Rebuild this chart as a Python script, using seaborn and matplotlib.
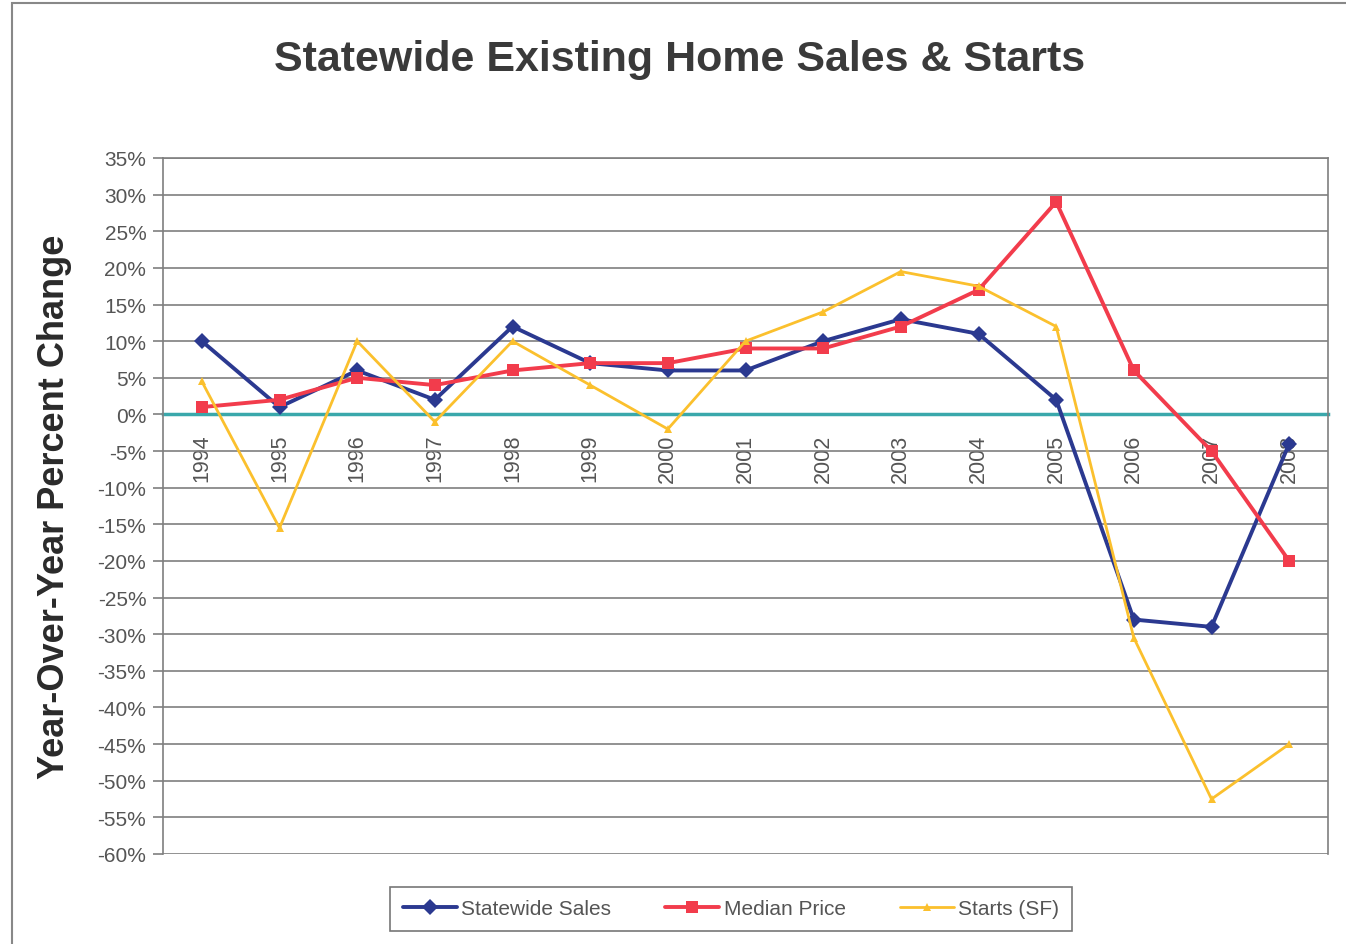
import matplotlib
matplotlib.use("Agg")
import matplotlib.pyplot as plt
import matplotlib.patches as mpatches
from matplotlib.ticker import FuncFormatter, MultipleLocator
import seaborn as sns
import pandas as pd
import numpy as np

years = [1994, 1995, 1996, 1997, 1998, 1999, 2000, 2001, 2002, 2003, 2004, 2005, 2006, 2007, 2008]
statewide_sales = [10, 1, 6, 2, 12, 7, 6, 6, 10, 13, 11, 2, -28, -29, -4]
median_price = [1, 2, 5, 4, 6, 7, 7, 9, 9, 12, 17, 29, 6, -5, -20]
starts_sf = [4.5, -15.5, 10, -1, 10, 4, -2, 10, 14, 19.5, 17.5, 12, -30.5, -52.5, -45]
series_names = ["Statewide Sales", "Median Price", "Starts (SF)"]
title_text = "Statewide Existing Home Sales & Starts"
ylabel_text = "Year-Over-Year Percent Change"

df = pd.DataFrame({
    "year": years * 3,
    "value": statewide_sales + median_price + starts_sf,
    "series": [series_names[0]] * len(years) + [series_names[1]] * len(years) + [series_names[2]] * len(years),
})

sns.set_style("white")
plt.rcParams["font.family"] = ["Liberation Sans", "DejaVu Sans"]

fig = plt.figure(figsize=(13.46, 9.45), dpi=100)
ax = fig.add_axes([163 / 1346, 1 - 855 / 945, (1328 - 163) / 1346, (855 - 159) / 945])

palette = {series_names[0]: "#2b3990", series_names[1]: "#f23c4c", series_names[2]: "#fbc02d"}
markers = {series_names[0]: "D", series_names[1]: "s", series_names[2]: "^"}
sizes_m = {series_names[0]: 8.5, series_names[1]: 9, series_names[2]: 6}
lws = {series_names[0]: 2.8, series_names[1]: 2.8, series_names[2]: 2.0}

for name in series_names:
    sub = df[df["series"] == name]
    sns.lineplot(data=sub, x="year", y="value", color=palette[name], marker=markers[name],
                 markersize=sizes_m[name], markeredgewidth=0, linewidth=lws[name], ax=ax,
                 label=name, zorder=3)

ax.set_xlim(years[0] - 0.5, years[-1] + 0.5)
ax.set_ylim(-60, 35)
ax.yaxis.set_major_locator(MultipleLocator(5))
ax.yaxis.set_major_formatter(FuncFormatter(lambda v, p: f"{int(round(v))}%"))
ax.grid(axis="y", color="#7f7f7f", linewidth=1.2, zorder=0)
ax.grid(axis="x", visible=False)

for s in ["left", "right", "top"]:
    ax.spines[s].set_color("#7f7f7f")
    ax.spines[s].set_linewidth(1.2)
ax.spines["bottom"].set_position(("data", 0))
ax.spines["bottom"].set_color("#3aa8ab")
ax.spines["bottom"].set_linewidth(2.5)
ax.spines["bottom"].set_zorder(2)

ax.set_xticks(years)
ax.set_xticklabels([str(y) for y in years], rotation=90, va="top", ha="center")
ax.set_xticks([y + 0.5 for y in years[:-1]], minor=True)
ax.tick_params(axis="x", which="major", length=0, pad=14, labelsize=15.5, labelcolor="#555555")
ax.tick_params(axis="x", which="minor", length=5, width=2, color="#3aa8ab", direction="out")
ax.tick_params(axis="y", which="major", length=7, width=1.2, color="#7f7f7f", direction="out",
               left=True, labelsize=15, labelcolor="#555555", pad=5)
ax.set_xlabel("")
ax.set_ylabel("")

fig.text(0.505, 1 - 60 / 945, title_text, ha="center", va="center", fontsize=31,
         fontweight="bold", color="#3a3a3a")
fig.text(55 / 1346, 1 - 507 / 945, ylabel_text, ha="center", va="center", rotation=90,
         fontsize=26, fontweight="bold", color="#2a2a2a")

handles, labels = ax.get_legend_handles_labels()
if ax.legend_:
    ax.legend_.remove()
leg = fig.legend(handles, labels, loc="center", bbox_to_anchor=(731 / 1346, 1 - 910 / 945), ncol=3,
                 frameon=True, fancybox=False, edgecolor="#555555", fontsize=15,
                 handlelength=2.6, columnspacing=2.6, borderpad=0.6, handletextpad=0.2)
leg.get_frame().set_linewidth(1.2)
for t in leg.get_texts():
    t.set_color("#555555")

border = mpatches.Rectangle((12 / 1346, -0.1), 1.2, 1.1 - 4 / 945, transform=fig.transFigure,
                            fill=False, edgecolor="#888888", linewidth=1.5, clip_on=False)
fig.patches.append(border)

fig.savefig("out.png", dpi=100)
